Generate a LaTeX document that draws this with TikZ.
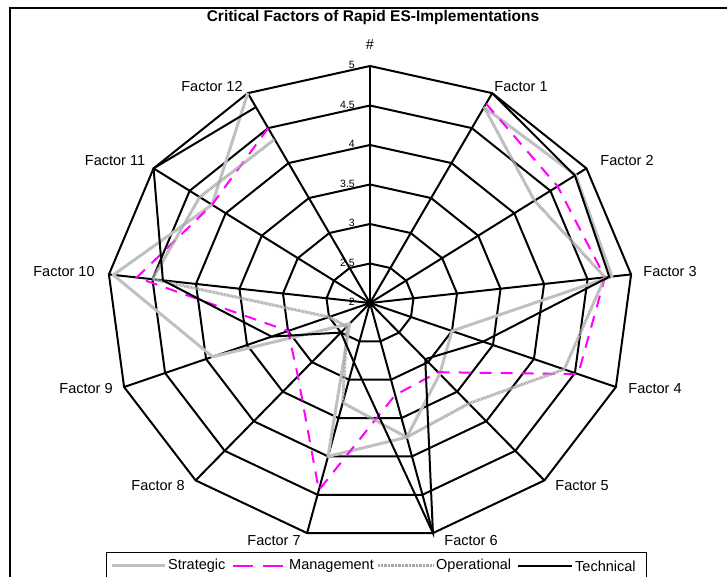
\documentclass[tikz,border=0pt]{standalone}
\usepackage{fontspec}
\setmainfont{Liberation Sans}
\definecolor{stratc}{HTML}{C0C0C0}
\definecolor{operc}{HTML}{A8A8A8}
\definecolor{mgmtc}{HTML}{FF00FF}
\begin{document}
\begin{tikzpicture}[x=1pt,y=1pt]
\useasboundingbox (0,0) rectangle (727,577);
\def\cx{370}\def\cy{274}\def\rx{263}\def\ry{237}
\tikzset{
  gridline/.style={black, line width=2pt, line join=miter},
  flab/.style={font=\fontsize{14.5}{16}\selectfont, inner sep=0pt},
  tlab/.style={font=\fontsize{10.5}{12}\selectfont, inner sep=0pt, anchor=east},
  stratline/.style={draw=stratc, line width=3pt, line join=round},
  mgmtline/.style={draw=mgmtc, line width=2pt, dash pattern=on 12pt off 9pt},
  operline/.style={draw=operc, line width=3pt, dash pattern=on 0.8pt off 0.6pt},
  techline/.style={draw=black, line width=2pt},
}
% frame
\draw[black, line width=1.2pt] (10,-5) -- (10,569) -- (730,569);
% title
\node[font=\bfseries\fontsize{15.5}{17}\selectfont, inner sep=0pt] (title) at (373,559) {Critical Factors of Rapid ES-Implementations};
% grid
\coordinate (c) at (\cx,\cy);
\foreach \r in {1,...,6}{
  \draw[gridline] ({\cx},{\cy+\r/6*\ry}) \foreach \k in {1,...,12}{ -- ({\cx+\r/6*\rx*sin(\k*360/13)},{\cy+\r/6*\ry*cos(\k*360/13)}) } -- cycle;
}
\foreach \k in {0,...,12}{
  \coordinate (o\k) at ({\cx+\rx*sin(\k*360/13)},{\cy+\ry*cos(\k*360/13)});
  \draw[gridline] (c) -- (o\k);
}
% tick labels
\foreach \v/\t in {0/2,1/2.5,2/3,3/3.5,4/4,5/4.5,6/5}{
  \node[tlab] (t\v) at (355,{\cy+\v/6*\ry+1}) {\t};
}
% axis labels
\node[flab] (hash) at (370,532) {\#};
\node[flab] (f1) at (521,490) {Factor 1};
\node[flab] (f2) at (627,416) {Factor 2};
\node[flab] (f3) at (670,305) {Factor 3};
\node[flab] (f4) at (655,188) {Factor 4};
\node[flab] (f5) at (582,91) {Factor 5};
\node[flab] (f6) at (471,36) {Factor 6};
\node[flab] (f7) at (274,36) {Factor 7};
\node[flab] (f8) at (158,91) {Factor 8};
\node[flab] (f9) at (86,188) {Factor 9};
\node[flab] (f10) at (64,305) {Factor 10};
\node[flab] (f11) at (115,416) {Factor 11};
\node[flab] (f12) at (212,490) {Factor 12};
% data
\foreach \k/\v in {1/4.8,2/4.85,3/4.78,4/3.0,5/3.2,6/3.75,7/4.0,8/2.35,9/3.92,10/4.95,11/4.19,12/5}
  \coordinate (s\k) at ({\cx+(\v-2)/3*\rx*sin(\k*360/13)},{\cy+(\v-2)/3*\ry*cos(\k*360/13)});
\foreach \k/\v in {1/4.85,2/4.6,3/4.7,4/4.54,5/3.17,6/3.2,7/4.44,8/3.24,9/3.0,10/4.68,11/4.19,12/4.5}
  \coordinate (m\k) at ({\cx+(\v-2)/3*\rx*sin(\k*360/13)},{\cy+(\v-2)/3*\ry*cos(\k*360/13)});
\foreach \k/\v in {1/4.8,2/4.28,3/4.7,4/4.37,5/3.7,6/3.75,7/3.3,8/2.4,9/2.5,10/4.5,11/4.36,12/4.34}
  \coordinate (p\k) at ({\cx+(\v-2)/3*\rx*sin(\k*360/13)},{\cy+(\v-2)/3*\ry*cos(\k*360/13)});
\foreach \k/\v in {1/5,2/4.84,3/4.75,4/3.38,5/2.95,6/5,7/2.77,8/2.5,9/3.2,10/4.38,11/5,12/4.8}
  \coordinate (q\k) at ({\cx+(\v-2)/3*\rx*sin(\k*360/13)},{\cy+(\v-2)/3*\ry*cos(\k*360/13)});
\draw[stratline] (s1) \foreach \k in {2,...,12}{ -- (s\k)};
\draw[mgmtline] (m1) \foreach \k in {2,...,12}{ -- (m\k)};
\draw[operline] (p1) \foreach \k in {2,...,12}{ -- (p\k)};
\draw[techline] (q1) \foreach \k in {2,...,12}{ -- (q\k)};
% legend
\draw[black, line width=1pt] (106,-10) rectangle (646,24);
\coordinate (la1) at (112,11); \coordinate (lb1) at (165,11);
\coordinate (la2) at (233,11); \coordinate (lb2) at (284,11);
\coordinate (la3) at (378,11); \coordinate (lb3) at (434,11);
\coordinate (la4) at (518,11); \coordinate (lb4) at (572,11);
\draw[stratline] (la1) -- (lb1);
\draw[draw=mgmtc, line width=2pt, dash pattern=on 20pt off 10pt] (la2) -- (lb2);
\draw[operline] (la3) -- (lb3);
\draw[techline] (la4) -- (lb4);
\node[flab, anchor=west] (l1) at (168,11) {Strategic};
\node[flab, anchor=west] (l2) at (289,11) {Management};
\node[flab, anchor=west] (l3) at (436,11) {Operational};
\node[flab, anchor=west] (l4) at (575,11) {Technical};
\end{tikzpicture}
\end{document}
